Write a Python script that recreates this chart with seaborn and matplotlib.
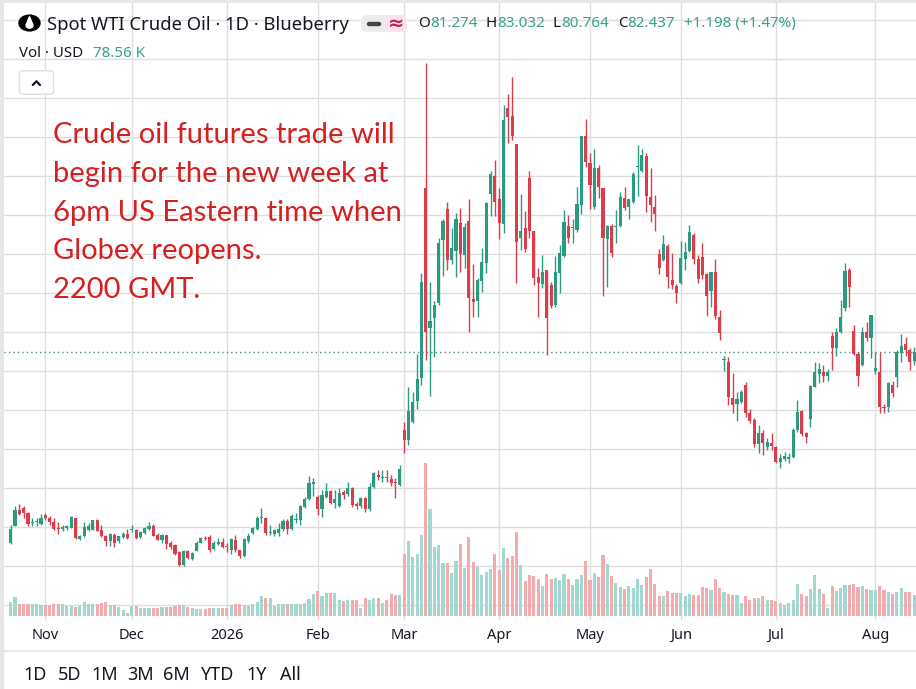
import numpy as np
import pandas as pd
import matplotlib
matplotlib.use("Agg")
import matplotlib.pyplot as plt
import seaborn as sns
from matplotlib.patches import Circle, Polygon, FancyBboxPatch, Rectangle
from matplotlib.lines import Line2D

# ---------------- data ----------------
open_ = [57.9, 60.17, 62.2, 62.45, 61.8, 60.5, 60.6, 60.4, 61.55, 61.2,
         60.7, 59.9, 59.8, 59.85, 59.9, 61.15, 58.45, 58.8, 59.65, 59.65,
         60.85, 59.65, 58.9, 58.15, 59.0, 58.15, 58.7, 59.1, 59.6, 59.6,
         58.7, 59.2, 59.75, 60.15, 59.0, 58.35, 59.0, 57.9, 57.65, 56.75,
         55.15, 56.95, 55.9, 56.95, 58.0, 58.6, 58.7, 57.15, 57.85, 58.05,
         57.6, 57.05, 58.35, 57.05, 56.3, 58.25, 59.2, 59.7, 61.1, 61.1,
         59.25, 59.1, 59.25, 59.7, 60.8, 59.7, 60.9, 60.9, 62.6, 63.55,
         65.45, 63.9, 62.3, 63.8, 64.65, 63.1, 62.7, 64.5, 64.2, 64.95,
         62.95, 62.7, 63.7, 62.25, 65.1, 66.65, 66.25, 66.45, 66.1, 65.8,
         65.4, 72.43, 71.15, 73.5, 76.15, 79.14, 103.42, 85.55, 86.84, 88.67,
         96.79, 100.77, 94.23, 95.38, 98.93, 94.87, 99.23, 89.23, 88.97, 91.54,
         93.8, 102.65, 105.04, 102.05, 98.8, 113.67, 112.73, 109.06, 97.01, 98.29,
         104.7, 97.95, 92.09, 91.11, 92.95, 91.02, 88.46, 92.52, 94.74, 98.59,
         98.29, 98.08, 101.28, 110.13, 106.71, 100.98, 105.98, 103.42, 96.88, 98.59,
         98.42, 98.59, 102.14, 100.98, 101.71, 106.2, 105.68, 107.56, 102.27, 100.98,
         95.0, 94.23, 96.03, 91.67, 90.9, 91.33, 94.32, 95.43, 97.44, 94.32,
         94.57, 92.44, 90.3, 92.74, 86.96, 81.41, 81.19, 76.5, 75.77, 76.07,
         78.2, 74.66, 73.72, 70.64, 72.09, 70.3, 70.81, 70.3, 68.37, 68.76,
         68.67, 69.01, 72.43, 74.91, 72.09, 73.8, 77.99, 79.61, 79.91, 79.36,
         84.49, 82.9, 85.04, 88.03, 92.95, 85.17, 82.18, 80.77, 85.04, 84.19,
         80.04, 79.91, 75.43, 75.34, 78.2, 79.19, 82.35, 83.46, 82.69, 81.274]
high = [60.3, 62.66, 62.96, 62.66, 61.9, 61.2, 61.2, 61.7, 61.8, 61.35,
        61.2, 60.7, 60.3, 60.3, 61.45, 61.2, 59.0, 60.7, 60.5, 60.95,
        61.0, 60.3, 59.0, 59.2, 59.2, 58.9, 59.3, 59.75, 60.2, 59.8,
        59.45, 60.0, 60.7, 60.4, 59.2, 59.1, 59.0, 58.15, 57.85, 56.9,
        57.1, 57.1, 56.85, 58.15, 58.7, 58.9, 59.0, 58.15, 58.55, 58.55,
        57.95, 58.55, 58.95, 57.1, 58.55, 59.2, 60.05, 61.45, 62.5, 61.3,
        60.25, 59.7, 60.55, 61.0, 61.0, 61.65, 61.75, 62.8, 63.9, 66.5,
        66.25, 64.1, 64.75, 65.6, 64.8, 64.8, 64.95, 64.8, 65.8, 65.15,
        63.25, 63.8, 63.9, 65.6, 67.1, 67.3, 67.35, 67.3, 66.65, 66.25,
        67.95, 73.5, 77.99, 77.35, 82.13, 92.52, 119.44, 91.45, 88.97, 97.09,
        99.48, 101.71, 98.29, 100.21, 100.85, 98.93, 102.05, 93.67, 91.96, 95.81,
        101.71, 105.64, 107.0, 103.5, 114.1, 115.47, 117.73, 109.06, 102.65, 100.51,
        105.64, 97.95, 93.16, 94.87, 92.95, 91.45, 94.74, 96.16, 100.64, 100.0,
        99.45, 103.55, 110.13, 112.3, 107.99, 108.42, 106.41, 103.42, 98.72, 98.85,
        100.64, 102.99, 103.63, 102.01, 105.56, 108.97, 108.42, 107.91, 105.98, 102.57,
        95.6, 97.44, 96.28, 95.17, 91.15, 96.71, 96.58, 98.72, 97.65, 94.87,
        96.45, 92.61, 92.74, 94.32, 87.82, 81.92, 81.75, 79.78, 77.35, 77.56,
        78.63, 75.08, 73.93, 73.07, 72.43, 71.36, 72.0, 70.38, 69.35, 69.65,
        69.53, 72.65, 76.28, 75.0, 72.22, 78.2, 81.19, 80.98, 80.76, 80.21,
        85.04, 85.47, 89.1, 93.8, 93.16, 85.9, 82.48, 85.68, 86.32, 87.18,
        82.48, 82.48, 75.77, 78.63, 78.76, 82.69, 84.74, 84.31, 82.9, 83.032]
low = [57.8, 60.1, 61.5, 61.2, 60.17, 60.1, 60.1, 60.3, 60.9, 60.3,
       59.65, 59.1, 59.55, 59.65, 59.85, 58.5, 58.3, 58.7, 59.45, 59.6,
       59.45, 58.7, 57.6, 57.6, 57.4, 58.0, 58.55, 58.45, 59.3, 58.4,
       58.55, 59.1, 59.65, 58.8, 58.3, 57.95, 57.15, 57.2, 56.45, 55.0,
       55.0, 55.9, 55.8, 56.9, 57.95, 58.3, 56.85, 57.05, 57.7, 57.3,
       56.85, 56.55, 56.85, 56.0, 56.1, 57.9, 59.1, 59.6, 60.45, 59.0,
       59.0, 58.9, 58.9, 59.55, 59.1, 59.6, 60.55, 60.25, 62.5, 63.4,
       63.95, 61.55, 61.25, 63.7, 63.0, 62.5, 62.6, 63.65, 64.0, 62.6,
       62.25, 62.4, 61.95, 62.1, 64.95, 66.0, 65.8, 65.8, 65.25, 63.75,
       65.25, 69.44, 70.51, 73.29, 75.13, 78.2, 81.41, 76.84, 81.83, 88.46,
       92.22, 92.95, 93.67, 92.09, 92.73, 93.16, 85.04, 86.96, 86.96, 90.08,
       92.52, 99.91, 99.91, 96.92, 97.65, 109.19, 109.61, 91.24, 95.51, 95.3,
       97.01, 91.02, 86.96, 90.6, 82.05, 88.03, 88.25, 89.96, 94.66, 96.37,
       96.45, 97.86, 100.13, 106.2, 100.73, 100.73, 102.14, 89.62, 90.73, 94.57,
       96.45, 98.42, 100.64, 99.45, 101.58, 102.44, 105.56, 100.43, 99.15, 98.0,
       92.44, 94.15, 90.6, 90.47, 88.76, 91.15, 92.95, 95.3, 93.72, 91.24,
       91.75, 87.05, 88.25, 86.63, 83.97, 80.04, 75.64, 74.57, 73.63, 75.85,
       74.14, 73.29, 70.3, 69.44, 69.23, 69.87, 69.87, 68.16, 67.52, 68.5,
       68.16, 68.8, 72.22, 71.66, 70.81, 72.77, 77.9, 78.5, 78.63, 78.76,
       80.13, 81.92, 84.91, 87.73, 88.16, 82.05, 78.07, 80.64, 83.89, 81.62,
       79.61, 74.66, 74.57, 74.78, 76.71, 77.99, 81.19, 81.92, 80.13, 80.764]
close = [59.8, 62.23, 61.7, 61.8, 60.4, 60.7, 60.75, 61.15, 61.15, 60.6,
         59.8, 59.75, 60.0, 60.1, 61.25, 58.6, 58.8, 60.0, 60.1, 60.85,
         59.55, 58.9, 58.15, 59.15, 58.0, 58.8, 59.15, 58.6, 59.8, 58.6,
         59.3, 59.85, 60.15, 58.9, 58.35, 59.0, 57.85, 57.4, 56.55, 55.15,
         56.9, 56.0, 56.65, 58.0, 58.6, 58.45, 57.0, 57.9, 58.05, 57.5,
         57.45, 58.4, 57.05, 56.3, 58.4, 58.9, 59.85, 61.1, 61.2, 59.2,
         59.4, 59.6, 59.7, 60.8, 59.7, 61.4, 61.05, 62.7, 63.65, 65.6,
         65.8, 62.3, 64.1, 64.65, 63.1, 63.55, 64.4, 64.1, 64.95, 62.8,
         62.7, 63.7, 62.25, 65.1, 66.95, 66.35, 66.45, 66.25, 65.6, 65.6,
         67.4, 71.15, 74.87, 76.07, 78.97, 91.36, 85.04, 86.41, 88.46, 96.37,
         99.23, 94.23, 95.72, 99.48, 94.95, 98.5, 89.31, 88.8, 91.66, 94.02,
         101.5, 105.21, 101.71, 98.93, 112.18, 112.6, 110.17, 96.58, 97.95, 95.64,
         97.95, 91.96, 91.24, 92.73, 86.75, 88.37, 92.74, 95.17, 99.15, 97.01,
         98.42, 101.41, 110.13, 106.84, 103.85, 105.98, 103.55, 97.01, 98.59, 95.17,
         98.59, 102.27, 100.86, 102.01, 105.26, 106.28, 107.69, 102.44, 101.28, 100.13,
         93.16, 96.28, 92.0, 91.03, 90.04, 94.44, 95.3, 97.86, 94.32, 91.75,
         92.31, 89.62, 92.74, 87.05, 84.91, 81.49, 76.71, 75.64, 76.37, 77.35,
         74.57, 73.63, 70.64, 72.09, 70.72, 70.94, 70.38, 68.37, 68.8, 69.1,
         68.93, 72.43, 74.78, 71.92, 71.49, 78.08, 79.91, 80.21, 79.36, 79.91,
         82.9, 85.04, 86.96, 92.86, 90.81, 82.18, 79.36, 85.04, 84.19, 87.18,
         80.34, 75.34, 75.21, 78.5, 77.22, 82.48, 83.2, 82.69, 81.19, 82.437]
volume_k = [52, 71, 44, 46, 46, 44, 44, 42, 42, 40,
            44, 46, 46, 39, 39, 34, 39, 54, 46, 46,
            46, 49, 54, 42, 42, 34, 21, 12, 37, 37,
            30, 30, 30, 30, 30, 34, 34, 34, 37, 42,
            42, 34, 30, 27, 27, 27, 30, 31, 31, 30,
            30, 42, 46, 46, 42, 42, 46, 54, 74, 66,
            66, 37, 44, 46, 46, 46, 46, 46, 49, 65,
            84, 92, 74, 86, 87, 87, 59, 56, 59, 61,
            61, 30, 67, 59, 66, 67, 49, 59, 81, 77,
            77, 231, 281, 221, 233, 304, 572, 399, 258, 264,
            198, 200, 161, 205, 268, 180, 296, 201, 183, 153,
            163, 175, 231, 171, 256, 216, 223, 314, 192, 130,
            152, 148, 137, 112, 156, 137, 141, 133, 156, 137,
            115, 137, 152, 205, 133, 160, 146, 227, 196, 148,
            125, 108, 100, 111, 105, 140, 115, 146, 175, 121,
            74, 74, 92, 87, 87, 87, 74, 84, 77, 77,
            107, 104, 96, 137, 104, 90, 81, 77, 77, 50,
            74, 61, 67, 69, 74, 59, 61, 55, 50, 40,
            50, 61, 118, 84, 74, 100, 152, 100, 81, 30,
            111, 92, 105, 115, 115, 118, 108, 111, 100, 96,
            96, 111, 96, 89, 81, 89, 105, 89, 89, 78.56]
month_labels = ["Nov", "Dec", "2026", "Feb", "Mar", "Apr", "May", "Jun", "Jul", "Aug"]
month_start_bar = [8, 28, 50, 71, 91, 113, 134, 155, 177, 200]
range_buttons = ["1D", "5D", "1M", "3M", "6M", "YTD", "1Y", "All"]
title = "Spot WTI Crude Oil \u00b7 1D \u00b7 Blueberry"
note_lines = ["Crude oil futures trade will", "begin for the new week at",
              "6pm US Eastern time when", "Globex reopens.", "2200 GMT."]

# ---------------- style ----------------
sns.set_theme(style="white")
plt.rcParams["font.family"] = ["Noto Sans", "DejaVu Sans"]

UP, DOWN = "#2a9a80", "#dc3d4a"
UP_V, DOWN_V = "#a3d8d0", "#f4abad"
TEAL_TXT = "#3a9f8b"
DARK = "#131722"
GRID = "#dedede"

W, H = 916, 689
fig = plt.figure(figsize=(W / 100, H / 100), dpi=100)
fig.patch.set_facecolor("white")
renderer = fig.canvas.get_renderer()


def fx(x):
    return x / W


def fy(y):
    return 1 - y / H


# pane geometry (pixels)
PANE_L, PANE_R, PANE_T, PANE_B = 4, 916, 3, 620
BAR0_X, BAR_DX = 10.7, 4.323          # pixel x of first bar and bar spacing
REF_Y, REF_P, PX_PER_USD = 371, 80.0, 7.8
VOL_BASE_Y, VOL_PER_PX = 616, 3.74

rect = [fx(PANE_L), fy(PANE_B), (PANE_R - PANE_L) / W, (PANE_B - PANE_T) / H]
ax = fig.add_axes(rect, zorder=1)
axv = fig.add_axes(rect, zorder=2)
axv.patch.set_alpha(0)

n = len(close)
idx = np.arange(n)
o = np.array(open_); c = np.array(close); hi = np.array(high); lo = np.array(low)
up = c >= o
cols = np.where(up, UP, DOWN)

xlim = ((PANE_L - BAR0_X) / BAR_DX, (PANE_R - BAR0_X) / BAR_DX)
ylim = (REF_P - (PANE_B - REF_Y) / PX_PER_USD, REF_P + (REF_Y - PANE_T) / PX_PER_USD)

# candles
ax.vlines(idx, lo, hi, colors=cols, lw=1.0, zorder=3)
body_h = np.maximum(np.abs(c - o), 0.13)
ax.bar(idx, body_h, bottom=np.minimum(o, c), width=0.72, color=cols, linewidth=0, zorder=4)
ax.axhline(c[-1], color="#4c8f80", lw=1.0, ls=(0, (1, 2.2)), zorder=2)

ax.set_xlim(*xlim)
ax.set_ylim(*ylim)
ax.set_yticks(np.arange(50, 130, 5))
ax.set_xticks(month_start_bar)
ax.set_xticklabels(month_labels)
ax.tick_params(axis="x", length=0, pad=6, labelsize=10.5, labelcolor=DARK)
ax.tick_params(axis="y", length=0, labelleft=False)
for lab in ax.get_xticklabels():
    if lab.get_text() == "2026":
        lab.set_fontweight("bold")
ax.grid(True, color=GRID, lw=1.0)
ax.set_axisbelow(True)
for s in ax.spines.values():
    s.set_visible(False)

# volume
vdf = pd.DataFrame({"bar": idx, "vol": volume_k, "dir": np.where(up, "up", "down")})
sns.barplot(data=vdf, x="bar", y="vol", hue="dir", palette={"up": UP_V, "down": DOWN_V},
            hue_order=["up", "down"], native_scale=True, dodge=False, width=0.72,
            saturation=1, errorbar=None, legend=False, linewidth=0, ax=axv)
axv.set_xlim(*xlim)
axv.set_ylim(-(PANE_B - VOL_BASE_Y) * VOL_PER_PX, (VOL_BASE_Y - PANE_T) * VOL_PER_PX)
axv.set_axis_off()

# ---------------- frame decorations ----------------
fig.add_artist(Rectangle((0, 0), fx(3), 1, transform=fig.transFigure, color="#e6e6e6", zorder=0))
fig.add_artist(Rectangle((0, fy(3)), 1, 3 / H, transform=fig.transFigure, color="#e6e6e6", zorder=0))
fig.add_artist(Line2D([fx(4), 1], [fy(650.5), fy(650.5)], transform=fig.transFigure,
                      color="#e3e5ea", lw=1.2))


def fit_size(s, target_w, size=12, **kw):
    t = fig.text(0, 0, s, fontsize=size, **kw)
    w = t.get_window_extent(renderer).width
    t.remove()
    return size * target_w / w


# header icon
fig.add_artist(Circle((fx(29.5), fy(23)), 10.5 / W, transform=fig.transFigure,
                      color="black", zorder=5))
fig.add_artist(Circle((fx(29.5), fy(25.6)), 3.4 / W, transform=fig.transFigure,
                      color="white", zorder=6))
fig.add_artist(Polygon([(fx(26.2), fy(24.6)), (fx(32.8), fy(24.6)), (fx(29.5), fy(16.5))],
                       closed=True, transform=fig.transFigure, color="white", zorder=6))

ts = fit_size(title, 301)
fig.text(fx(46.7), fy(30.5), title, fontsize=ts, color=DARK, va="baseline", ha="left", zorder=6)

# pill
fig.add_artist(FancyBboxPatch((fx(361), fy(32)), 46 / W, 17 / H, transform=fig.transFigure,
                              boxstyle="round,pad=0,rounding_size=0.009", fc="#ececec",
                              ec="none", zorder=5))
fig.add_artist(FancyBboxPatch((fx(385), fy(32)), 22 / W, 17 / H, transform=fig.transFigure,
                              boxstyle="round,pad=0,rounding_size=0.009", fc="#fbe3ea",
                              ec="none", zorder=5))
fig.add_artist(Rectangle((fx(385), fy(32)), 8 / W, 17 / H, transform=fig.transFigure,
                         fc="#fbe3ea", ec="none", zorder=5))
fig.add_artist(Line2D([fx(369), fx(379)], [fy(23.5), fy(23.5)], transform=fig.transFigure,
                      color="#444444", lw=3.2, solid_capstyle="round", zorder=6))
fig.text(fx(396), fy(23.5), "\u2248", fontsize=14, color="#c2185b", ha="center", va="center",
         fontweight="bold", zorder=6)

# OHLC values
hs = fit_size("O81.274", 59.7)
groups = [(418, "O", "81.274"), (486, "H", "83.032"), (552.7, "L", "80.764"),
          (617.7, "C", "82.437")]
for gx, letter, val in groups:
    t = fig.text(fx(gx), fy(27), letter, fontsize=hs, color=DARK, va="baseline", zorder=6)
    w = t.get_window_extent(renderer).width
    fig.text(fx(gx + w + 0.5), fy(27), val, fontsize=hs, color=TEAL_TXT, va="baseline", zorder=6)
fig.text(fx(684.3), fy(27), "+1.198 (+1.47%)", fontsize=hs, color=TEAL_TXT, va="baseline", zorder=6)

# volume legend
vs = fit_size("Vol \u00b7 USD", 64)
fig.text(fx(19), fy(56.7), "Vol \u00b7 USD", fontsize=vs, color=DARK, va="baseline", zorder=6)
fig.text(fx(92.7), fy(56.7), "78.56 K", fontsize=vs, color=TEAL_TXT, va="baseline", zorder=6)

# collapse button
fig.add_artist(FancyBboxPatch((fx(19.5), fy(94.3)), 34 / W, 23.6 / H, transform=fig.transFigure,
                              boxstyle="round,pad=0,rounding_size=0.004", fc="white",
                              ec="#dcdfe6", lw=1.0, zorder=5))
fig.add_artist(Line2D([fx(32.8), fx(36.4), fx(40.0)], [fy(85), fy(81.3), fy(85)],
                      transform=fig.transFigure, color=DARK, lw=1.6, zorder=6))

# red note
note_size = fit_size(note_lines[0], 341, family=["Lato", "DejaVu Sans"])
for line, base in zip(note_lines, [143.3, 181.7, 220.7, 259.3, 297.7]):
    fig.text(fx(52.7), fy(base), line, fontsize=note_size, color="#d42020", va="baseline",
             ha="left", family=["Lato", "DejaVu Sans"], zorder=7)

# range buttons
for lab, cx in zip(range_buttons, [35, 70, 105, 140, 176, 216.7, 257, 290]):
    fig.text(fx(cx), fy(675), lab, fontsize=13, color=DARK, ha="center", va="center")

fig.savefig("out.png", dpi=100, facecolor="white")
